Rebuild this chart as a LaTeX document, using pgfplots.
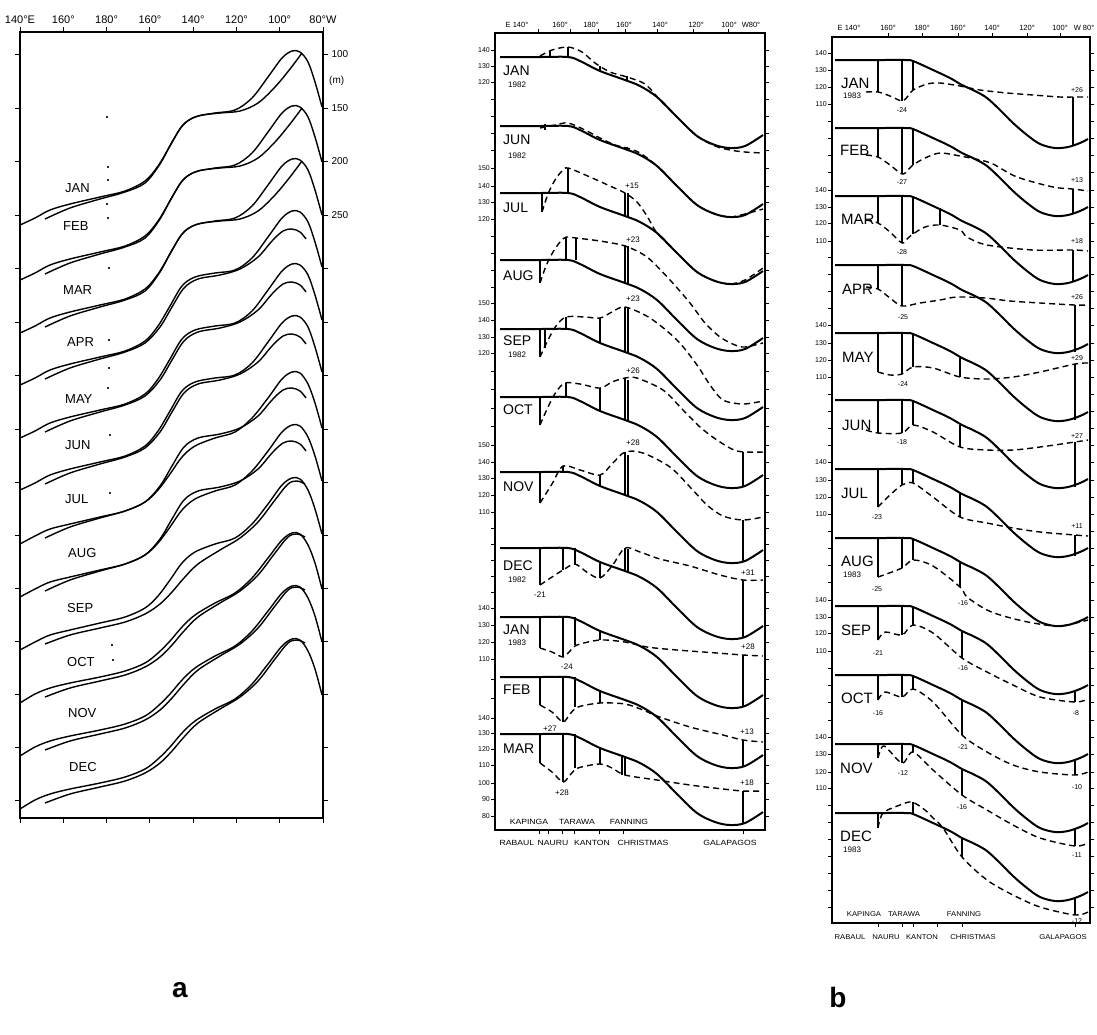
\documentclass[border=0pt]{standalone}
\usepackage{pgfplots}
\pgfplotsset{compat=1.18}
\usepackage{fontspec}
\setmainfont{Liberation Sans}
\begin{document}
\begin{tikzpicture}
\useasboundingbox (0pt,0pt) rectangle (1097pt,-1035pt);
\pgfplotsset{
  panel/.style={scale only axis, y dir=reverse, axis line style={line width=1.5pt}, tick style={line width=1pt, black}, major tick length=5pt, tick align=outside, clip=false, anchor=north west},
  pa/.style={black, line width=1.4pt, smooth, tension=0.55, mark=none},
  sol/.style={black, line width=2pt, smooth, tension=0.55, mark=none},
  dsh/.style={black, line width=1.4pt, dash pattern=on 6pt off 4pt, smooth, tension=0.5, mark=none},
  bar/.style={black, line width=1.2pt, mark=none, unbounded coords=jump},
}
\tikzset{
  mon/.style={font=\fontsize{14}{14}\selectfont, anchor=west, inner sep=0pt},
  monb/.style={font=\fontsize{15}{15}\selectfont, anchor=west, inner sep=0pt},
  mona/.style={font=\fontsize{13}{13}\selectfont, anchor=west, inner sep=0pt},
  yr/.style={font=\fontsize{8}{8}\selectfont, anchor=west, inner sep=0pt},
  num/.style={font=\fontsize{8}{8}\selectfont, inner sep=0pt},
  numb/.style={font=\fontsize{7}{7}\selectfont, inner sep=0pt},
  st/.style={font=\fontsize{7.5}{7.5}\selectfont, inner sep=0pt, xscale=1.15},
  stb/.style={font=\fontsize{7}{7}\selectfont, inner sep=0pt, xscale=1.1},
  hd/.style={font=\fontsize{7.5}{7.5}\selectfont, inner sep=0pt},
}
% ---------------- panel a ----------------
\begin{axis}[panel, at={(20pt,-32pt)}, width=303pt, height=786pt,
  xmin=20, xmax=323, ymin=32, ymax=818,
  xtick={20,63.3,106.6,149.9,193.1,236.4,279.7,323},
  xticklabels={140°E,160°,180°,160°,140°,120°,100°,80°W},
  xtick pos=both, xticklabel pos=right,
  ytick={54,108,161,215,268,322,375,429,482,535,588,641,694,747,800},
  yticklabels={100,150,200,250,{},{},{},{},{},{},{},{},{},{},{}},
  ytick pos=both, yticklabel pos=right,
  xticklabel style={font=\fontsize{11}{11}\selectfont},
  yticklabel style={font=\fontsize{10}{10}\selectfont}]
% observed
\addplot[pa] coordinates {(20,225)(35,218)(50,210)(70,204)(100,197)(125,191)(145,181)(158,166)(170,146)(182,126)(195,117)(215,113)(235,110)(252,98)(268,77)(282,58)(292,51)(300,52)(308,62)(315,82)(322,107)};
\addplot[pa] coordinates {(20,280)(35,273)(50,265)(70,259)(100,252)(125,246)(145,236)(158,221)(170,201)(182,181)(195,172)(215,168)(235,165)(252,153)(268,132)(282,113)(292,106)(300,107)(308,117)(315,137)(322,162)};
\addplot[pa] coordinates {(20,333)(35,326)(50,318)(70,312)(100,305)(125,299)(145,289)(158,274)(170,254)(182,234)(195,225)(215,221)(235,218)(252,206)(268,185)(282,166)(292,159)(300,160)(308,170)(315,190)(322,215)};
\addplot[pa] coordinates {(20,385)(35,378)(50,370)(70,364)(100,357)(125,351)(145,341)(158,326)(170,306)(182,286)(195,277)(215,273)(235,270)(252,258)(268,237)(282,218)(292,211)(300,212)(308,222)(315,242)(322,267)};
\addplot[pa] coordinates {(20,438)(35,431)(50,423)(70,417)(100,410)(125,404)(145,394)(158,379)(170,359)(182,339)(195,330)(215,326)(235,323)(252,311)(268,290)(282,271)(292,264)(300,265)(308,275)(315,295)(322,320)};
\addplot[pa] coordinates {(20,490)(35,483)(50,475)(70,469)(100,462)(125,456)(145,446)(158,431)(170,411)(182,391)(195,382)(215,378)(235,375)(252,363)(268,342)(282,323)(292,316)(300,317)(308,327)(315,347)(322,372)};
\addplot[pa] coordinates {(20,544)(35,536)(50,529)(70,524)(100,517)(125,511)(145,502)(158,490)(170,474)(182,457)(195,446)(215,438)(235,432)(252,418)(268,398)(282,379)(292,372)(300,373)(308,384)(315,403)(322,428)};
\addplot[pa] coordinates {(20,597)(35,589)(50,582)(70,577)(100,570)(125,564)(145,555)(158,543)(170,527)(182,510)(195,499)(215,491)(235,485)(252,471)(268,451)(282,432)(292,425)(300,426)(308,437)(315,456)(322,481)};
\addplot[pa] coordinates {(20,650)(35,642)(50,635)(70,630)(100,623)(125,617)(145,608)(158,596)(170,580)(182,563)(195,552)(215,544)(235,538)(252,524)(268,504)(282,485)(292,478)(300,479)(308,490)(315,509)(322,534)};
\addplot[pa] coordinates {(20,703)(35,694)(50,688)(70,683)(100,677)(125,671)(145,663)(158,653)(170,641)(182,627)(195,615)(215,603)(235,593)(252,578)(268,558)(282,540)(292,533)(300,534)(308,545)(315,563)(322,589)};
\addplot[pa] coordinates {(20,756)(35,747)(50,741)(70,736)(100,730)(125,724)(145,716)(158,706)(170,694)(182,680)(195,668)(215,656)(235,646)(252,631)(268,611)(282,593)(292,586)(300,587)(308,598)(315,616)(322,642)};
\addplot[pa] coordinates {(20,809)(35,800)(50,794)(70,789)(100,783)(125,777)(145,769)(158,759)(170,747)(182,733)(195,721)(215,709)(235,699)(252,684)(268,664)(282,646)(292,639)(300,640)(308,651)(315,669)(322,695)};
% fitted
\addplot[pa] coordinates {(45,219)(70,208)(100,199)(125,192)(145,183)(160,164)(172,142)(184,124)(198,116)(220,113)(240,111)(258,103)(275,87)(290,69)(302,53)};
\addplot[pa] coordinates {(45,274)(70,263)(100,254)(125,247)(145,238)(160,219)(172,197)(184,179)(198,171)(220,168)(240,166)(258,158)(275,142)(290,124)(302,108)};
\addplot[pa] coordinates {(45,327)(70,316)(100,307)(125,300)(145,291)(160,272)(172,250)(184,232)(198,224)(220,221)(240,219)(258,211)(275,195)(290,177)(302,161)};
\addplot[pa] coordinates {(45,379)(70,368)(100,359)(125,352)(145,343)(160,327)(172,307)(184,288)(198,279)(220,275)(240,269)(258,257)(272,241)(283,231)(292,229)(300,232)(306,239)};
\addplot[pa] coordinates {(45,432)(70,421)(100,412)(125,405)(145,396)(160,380)(172,360)(184,341)(198,332)(220,328)(240,322)(258,310)(272,294)(283,284)(292,282)(300,285)(306,292)};
\addplot[pa] coordinates {(45,484)(70,473)(100,464)(125,457)(145,448)(160,432)(172,412)(184,393)(198,384)(220,380)(240,374)(258,362)(272,346)(283,336)(292,334)(300,337)(306,344)};
\addplot[pa] coordinates {(45,538)(70,527)(100,518)(125,511)(145,502)(160,486)(172,466)(184,447)(198,438)(220,434)(240,428)(258,416)(272,400)(283,390)(292,388)(300,391)(306,398)};
\addplot[pa] coordinates {(45,591)(70,580)(100,571)(125,564)(145,555)(160,539)(172,519)(184,500)(198,491)(220,487)(240,481)(258,469)(272,453)(283,443)(292,441)(300,444)(306,451)};
\addplot[pa] coordinates {(45,644)(70,635)(100,628)(125,622)(145,614)(160,604)(172,592)(184,578)(198,564)(220,550)(240,538)(258,522)(275,500)(288,484)(297,481)(305,484)};
\addplot[pa] coordinates {(45,697)(70,688)(100,681)(125,675)(145,667)(160,657)(172,645)(184,631)(198,617)(220,603)(240,591)(258,575)(275,553)(288,537)(297,534)(305,537)};
\addplot[pa] coordinates {(45,750)(70,741)(100,734)(125,728)(145,720)(160,710)(172,698)(184,684)(198,670)(220,656)(240,644)(258,628)(275,606)(288,590)(297,587)(305,590)};
\addplot[pa] coordinates {(45,803)(70,794)(100,787)(125,781)(145,773)(160,763)(172,751)(184,737)(198,723)(220,709)(240,697)(258,681)(275,659)(288,643)(297,640)(305,643)};
\addplot[only marks, mark=*, mark size=0.8pt, black] coordinates {(107,117)(108,167)(108,180)(107,204)(108,218)(109,268)(109,340)(109,368)(108,388)(110,435)(110,493)(112,645)(113,660)};
\node[font=\fontsize{10}{10}\selectfont, anchor=west, inner sep=0pt] at (axis cs:329,81) {(m)};
\node[mona] at (axis cs:65,188) {JAN};
\node[mona] at (axis cs:63,226) {FEB};
\node[mona] at (axis cs:63,290) {MAR};
\node[mona] at (axis cs:67,342) {APR};
\node[mona] at (axis cs:65,399) {MAY};
\node[mona] at (axis cs:65,445) {JUN};
\node[mona] at (axis cs:65,499) {JUL};
\node[mona] at (axis cs:68,553) {AUG};
\node[mona] at (axis cs:67,608) {SEP};
\node[mona] at (axis cs:67,662) {OCT};
\node[mona] at (axis cs:68,713) {NOV};
\node[mona] at (axis cs:69,767) {DEC};
\end{axis}
% ---------------- panel b, left column ----------------
\begin{axis}[panel, at={(495pt,-33pt)}, width=270pt, height=797pt,
  xmin=495, xmax=765, ymin=33, ymax=830,
  xtick={539,548,562,574,599,623,743}, xticklabels={{},{},{},{},{},{},{}}, xtick pos=left,
  ytick={50,66,82,99,116,133,150,168,186,202,219,236,253,270,287,303,320,337,353,371,389,408,426,445,462,478,495,512,528,544,560,576,592,608,625,642,659,679,698,718,733,749,765,783,799,816},
  yticklabels={140,130,120,{},{},{},{},150,140,130,120,{},{},{},{},150,140,130,120,{},{},{},{},150,140,130,120,110,{},{},{},{},{},140,130,120,110,{},{},140,130,120,110,100,90,80},
  ytick pos=both, yticklabel pos=left, major tick length=4pt,
  yticklabel style={font=\fontsize{7}{7}\selectfont, inner sep=1pt}]
% climatology (solid)
\addplot[sol] coordinates {(500,57)(540,57)(568,57)(580,61)(600,71)(625,80)(640,86)(657,97)(677,117)(697,136)(715,145)(730,148)(745,146)(763,135)};
\addplot[sol] coordinates {(500,126)(540,126)(568,126)(580,130)(600,140)(625,149)(640,155)(657,166)(677,186)(697,205)(715,214)(730,217)(745,215)(763,204)};
\addplot[sol] coordinates {(500,193)(540,193)(568,193)(580,197)(600,207)(625,216)(640,222)(657,233)(677,253)(697,272)(715,281)(730,284)(745,282)(763,271)};
\addplot[sol] coordinates {(500,260)(540,260)(568,260)(580,264)(600,274)(625,283)(640,289)(657,300)(677,320)(697,339)(715,348)(730,351)(745,349)(763,338)};
\addplot[sol] coordinates {(500,329)(540,329)(568,329)(580,333)(600,343)(625,352)(640,358)(657,369)(677,389)(697,408)(715,417)(730,420)(745,418)(763,407)};
\addplot[sol] coordinates {(500,397)(540,397)(568,397)(580,401)(600,411)(625,420)(640,426)(657,437)(677,457)(697,476)(715,485)(730,488)(745,486)(763,475)};
\addplot[sol] coordinates {(500,472)(540,472)(568,472)(580,476)(600,486)(625,495)(640,501)(657,512)(677,532)(697,551)(715,560)(730,563)(745,561)(763,550)};
\addplot[sol] coordinates {(500,548)(540,548)(568,548)(580,552)(600,562)(625,571)(640,577)(657,588)(677,608)(697,627)(715,636)(730,639)(745,637)(763,626)};
\addplot[sol] coordinates {(500,617)(540,617)(568,617)(580,621)(600,631)(625,640)(640,646)(657,657)(677,677)(697,696)(715,705)(730,708)(745,706)(763,695)};
\addplot[sol] coordinates {(500,677)(540,677)(568,677)(580,681)(600,691)(625,700)(640,706)(657,717)(677,737)(697,756)(715,765)(730,768)(745,766)(763,755)};
\addplot[sol] coordinates {(500,734)(540,734)(568,734)(580,738)(600,748)(625,757)(640,763)(657,774)(677,794)(697,813)(715,822)(730,825)(745,823)(763,812)};
% monthly (dashed)
\addplot[dsh] coordinates {(540,56)(552,50)(568,47)(582,52)(595,63)(610,72)(627,77)(645,84)(660,100)(677,117)(697,136)(715,146)(730,150)(745,152)(763,153)};
\addplot[dsh] coordinates {(540,128)(555,125)(568,123)(585,130)(600,138)(615,145)(627,148)(640,153)(657,166)(677,186)(697,205)(715,214)(730,217)(745,214)(763,209)};
\addplot[dsh] coordinates {(542,212)(548,194)(555,180)(562,171)(568,168)(590,177)(610,186)(625,193)(637,202)(647,216)(657,233)(677,253)(697,272)(715,281)(730,284)(745,280)(763,268)};
\addplot[dsh] coordinates {(540,283)(546,266)(553,252)(560,242)(566,237)(576,238)(600,241)(625,246)(647,257)(670,280)(690,303)(705,323)(720,337)(735,345)(745,347)(763,343)};
\addplot[dsh] coordinates {(540,357)(548,340)(556,326)(566,317)(585,317)(600,318)(612,312)(625,307)(650,318)(677,340)(697,365)(710,385)(723,400)(743,404)(763,401)};
\addplot[dsh] coordinates {(540,425)(548,407)(556,392)(565,383)(580,384)(600,388)(612,382)(625,378)(637,378)(663,390)(683,410)(700,427)(717,440)(737,451)(763,452)};
\addplot[dsh] coordinates {(540,503)(552,484)(563,466)(580,470)(600,475)(612,464)(625,452)(643,453)(670,467)(690,487)(707,505)(723,516)(743,520)(763,517)};
\addplot[dsh] coordinates {(540,585)(552,577)(563,570)(575,564)(588,573)(600,578)(612,566)(625,548)(640,552)(660,559)(690,566)(720,575)(743,580)(763,580)};
\addplot[dsh] coordinates {(540,648)(552,652)(563,657)(570,651)(577,645)(600,640)(625,642)(647,647)(677,650)(717,653)(743,655)(763,656)};
\addplot[dsh] coordinates {(540,705)(552,712)(563,722)(570,714)(578,707)(600,703)(625,704)(643,710)(657,716)(690,727)(723,735)(743,740)(763,742)};
\addplot[dsh] coordinates {(540,763)(552,772)(563,782)(570,775)(578,768)(600,764)(612,768)(625,775)(657,780)(690,785)(723,789)(743,791)(763,791)};
% station bars
\addplot[bar] coordinates {(550,51)(550,57)(550,nan)(568,47)(568,57)(568,nan)(600,66)(600,71)(600,nan)(627,76)(627,80)(627,nan)(545,124)(545,130)(545,nan)(627,147)(627,150)(627,nan)
(542,193)(542,212)(542,nan)(568,168)(568,193)(568,nan)(625,193)(625,216)(625,nan)(628,193)(628,217)(628,nan)
(540,260)(540,283)(540,nan)(566,237)(566,260)(566,nan)(576,238)(576,260)(576,nan)(625,245)(625,283)(625,nan)(628,246)(628,284)(628,nan)
(540,329)(540,357)(540,nan)(545,329)(545,348)(545,nan)(566,317)(566,329)(566,nan)(600,318)(600,343)(600,nan)(625,307)(625,352)(625,nan)(628,307)(628,353)(628,nan)
(540,397)(540,425)(540,nan)(566,383)(566,397)(566,nan)(600,388)(600,411)(600,nan)(625,378)(625,420)(625,nan)(628,380)(628,421)(628,nan)(743,452)(743,487)(743,nan)
(540,472)(540,503)(540,nan)(563,466)(563,472)(563,nan)(600,475)(600,486)(600,nan)(625,452)(625,495)(625,nan)(628,455)(628,496)(628,nan)(743,520)(743,562)(743,nan)
(540,548)(540,585)(540,nan)(563,548)(563,570)(563,nan)(575,548)(575,564)(575,nan)(600,562)(600,578)(600,nan)(625,548)(625,571)(625,nan)(628,549)(628,572)(628,nan)(743,580)(743,638)(743,nan)
(540,617)(540,648)(540,nan)(563,617)(563,657)(563,nan)(575,617)(575,645)(575,nan)(600,631)(600,640)(600,nan)(743,655)(743,707)(743,nan)
(540,677)(540,705)(540,nan)(563,677)(563,722)(563,nan)(575,677)(575,707)(575,nan)(600,691)(600,703)(600,nan)(743,740)(743,767)(743,nan)
(540,734)(540,763)(540,nan)(563,734)(563,782)(563,nan)(575,734)(575,768)(575,nan)(600,748)(600,764)(600,nan)(622,756)(622,775)(622,nan)(625,757)(625,775)(625,nan)(743,791)(743,824)};
% header
\node[hd] at (axis cs:517,25) {E 140°};
\node[hd] at (axis cs:560,25) {160°};
\node[hd] at (axis cs:591,25) {180°};
\node[hd] at (axis cs:624,25) {160°};
\node[hd] at (axis cs:660,25) {140°};
\node[hd] at (axis cs:696,25) {120°};
\node[hd] at (axis cs:729,25) {100°};
\node[hd] at (axis cs:751,25) {W80°};
\draw[line width=1pt] (axis cs:538,33) -- (axis cs:538,29);
\draw[line width=1pt] (axis cs:570,33) -- (axis cs:570,29);
\draw[line width=1pt] (axis cs:598,33) -- (axis cs:598,29);
\draw[line width=1pt] (axis cs:625,33) -- (axis cs:625,29);
\draw[line width=1pt] (axis cs:657,33) -- (axis cs:657,29);
\draw[line width=1pt] (axis cs:693,33) -- (axis cs:693,29);
\draw[line width=1pt] (axis cs:728,33) -- (axis cs:728,29);
% month labels
\node[mon] at (axis cs:503,71) {JAN}; \node[yr] at (axis cs:508,85) {1982};
\node[mon] at (axis cs:503,140) {JUN}; \node[yr] at (axis cs:508,156) {1982};
\node[mon] at (axis cs:503,208) {JUL};
\node[mon] at (axis cs:503,276) {AUG};
\node[mon] at (axis cs:503,341) {SEP}; \node[yr] at (axis cs:508,355) {1982};
\node[mon] at (axis cs:503,410) {OCT};
\node[mon] at (axis cs:503,487) {NOV};
\node[mon] at (axis cs:503,566) {DEC}; \node[yr] at (axis cs:508,580) {1982};
\node[mon] at (axis cs:503,630) {JAN}; \node[yr] at (axis cs:508,643) {1983};
\node[mon] at (axis cs:503,690) {FEB};
\node[mon] at (axis cs:503,749) {MAR};
% anomaly numbers
\node[num] at (axis cs:632,186) {+15};
\node[num] at (axis cs:633,240) {+23};
\node[num] at (axis cs:633,299) {+23};
\node[num] at (axis cs:633,371) {+26};
\node[num] at (axis cs:633,443) {+28};
\node[num] at (axis cs:748,573) {+31};
\node[num] at (axis cs:540,595) {-21};
\node[num] at (axis cs:748,647) {+28};
\node[num] at (axis cs:567,667) {-24};
\node[num] at (axis cs:550,729) {+27};
\node[num] at (axis cs:747,732) {+13};
\node[num] at (axis cs:747,783) {+18};
\node[num] at (axis cs:562,793) {+28};
% stations
\node[st] at (axis cs:529,822) {KAPINGA};
\node[st] at (axis cs:577,822) {TARAWA};
\node[st] at (axis cs:629,822) {FANNING};
\node[st] at (axis cs:517,843) {RABAUL};
\node[st] at (axis cs:553,843) {NAURU};
\node[st] at (axis cs:592,843) {KANTON};
\node[st] at (axis cs:643,843) {CHRISTMAS};
\node[st] at (axis cs:730,843) {GALAPAGOS};
\end{axis}
% ---------------- panel b, right column ----------------
\begin{axis}[panel, at={(832pt,-37pt)}, width=258pt, height=886pt,
  xmin=832, xmax=1090, ymin=37, ymax=923,
  xtick={878,902,913,937,962,1075}, xticklabels={{},{},{},{},{},{}}, xtick pos=left,
  ytick={53,70,87,104,121,138,155,172,190,207,223,241,257,274,291,308,325,343,360,377,394,411,428,445,462,480,497,514,531,548,565,582,600,617,633,651,668,685,702,720,737,754,772,788,805,822,839,856,873,890,907},
  yticklabels={140,130,120,110,{},{},{},{},140,130,120,110,{},{},{},{},140,130,120,110,{},{},{},{},140,130,120,110,{},{},{},{},140,130,120,110,{},{},{},{},140,130,120,110,{},{},{},{},{},{},{}},
  ytick pos=both, yticklabel pos=left, major tick length=4pt,
  yticklabel style={font=\fontsize{7}{7}\selectfont, inner sep=1pt}]
% climatology (solid)
\addplot[sol] coordinates {(835,60)(880,60)(905,60)(913,61)(933,70)(950,78)(962,85)(975,91)(987,98)(1000,110)(1013,123)(1027,135)(1040,144)(1055,148)(1068,147)(1080,143)(1088,139)};
\addplot[sol] coordinates {(835,128)(880,128)(905,128)(913,129)(933,138)(950,146)(962,153)(975,159)(987,166)(1000,178)(1013,191)(1027,203)(1040,212)(1055,216)(1068,215)(1080,211)(1088,207)};
\addplot[sol] coordinates {(835,196)(880,196)(905,196)(913,197)(933,206)(950,214)(962,221)(975,227)(987,234)(1000,246)(1013,259)(1027,271)(1040,280)(1055,284)(1068,283)(1080,279)(1088,275)};
\addplot[sol] coordinates {(835,265)(880,265)(905,265)(913,266)(933,275)(950,283)(962,290)(975,296)(987,303)(1000,315)(1013,328)(1027,340)(1040,349)(1055,353)(1068,352)(1080,348)(1088,344)};
\addplot[sol] coordinates {(835,333)(880,333)(905,333)(913,334)(933,343)(950,351)(962,358)(975,364)(987,371)(1000,383)(1013,396)(1027,408)(1040,417)(1055,421)(1068,420)(1080,416)(1088,412)};
\addplot[sol] coordinates {(835,400)(880,400)(905,400)(913,401)(933,410)(950,418)(962,425)(975,431)(987,438)(1000,450)(1013,463)(1027,475)(1040,484)(1055,488)(1068,487)(1080,483)(1088,479)};
\addplot[sol] coordinates {(835,469)(880,469)(905,469)(913,470)(933,479)(950,487)(962,494)(975,500)(987,507)(1000,519)(1013,532)(1027,544)(1040,553)(1055,557)(1068,556)(1080,552)(1088,548)};
\addplot[sol] coordinates {(835,538)(880,538)(905,538)(913,539)(933,548)(950,556)(962,563)(975,569)(987,576)(1000,588)(1013,601)(1027,613)(1040,622)(1055,626)(1068,625)(1080,621)(1088,617)};
\addplot[sol] coordinates {(835,606)(880,606)(905,606)(913,607)(933,616)(950,624)(962,631)(975,637)(987,644)(1000,656)(1013,669)(1027,681)(1040,690)(1055,694)(1068,693)(1080,689)(1088,685)};
\addplot[sol] coordinates {(835,675)(880,675)(905,675)(913,676)(933,685)(950,693)(962,700)(975,706)(987,713)(1000,725)(1013,738)(1027,750)(1040,759)(1055,763)(1068,762)(1080,758)(1088,754)};
\addplot[sol] coordinates {(835,744)(880,744)(905,744)(913,745)(933,754)(950,762)(962,769)(975,775)(987,782)(1000,794)(1013,807)(1027,819)(1040,828)(1055,832)(1068,831)(1080,827)(1088,823)};
\addplot[sol] coordinates {(835,813)(880,813)(905,813)(913,814)(933,823)(950,831)(962,838)(975,844)(987,851)(1000,863)(1013,876)(1027,888)(1040,897)(1055,901)(1068,900)(1080,896)(1088,892)};
% monthly (dashed)
\addplot[dsh] coordinates {(866,92)(878,92)(890,96)(902,101)(908,96)(913,90)(927,84)(940,83)(960,86)(980,90)(1007,93)(1033,95)(1060,97)(1073,97)(1088,97)};
\addplot[dsh] coordinates {(866,155)(878,157)(890,165)(902,174)(908,170)(913,165)(925,158)(940,153)(960,156)(980,160)(993,164)(1017,177)(1053,187)(1073,189)(1088,191)};
\addplot[dsh] coordinates {(866,220)(878,223)(890,232)(902,243)(908,238)(913,234)(925,227)(940,225)(960,230)(967,237)(987,245)(1033,250)(1073,250)(1088,251)};
\addplot[dsh] coordinates {(866,287)(878,289)(890,298)(902,306)(920,303)(940,300)(957,297)(985,298)(1010,301)(1040,303)(1075,305)(1088,305)};
\addplot[dsh] coordinates {(878,372)(890,375)(902,374)(913,367)(933,368)(960,377)(987,379)(1013,377)(1040,372)(1075,364)(1088,363)};
\addplot[dsh] coordinates {(866,430)(878,433)(902,433)(913,425)(933,432)(960,447)(987,450)(1013,450)(1040,447)(1075,442)(1088,440)};
\addplot[dsh] coordinates {(878,507)(890,495)(902,485)(913,483)(933,497)(960,517)(987,523)(1013,528)(1040,532)(1075,535)(1088,536)};
\addplot[dsh] coordinates {(878,577)(902,568)(913,560)(933,566)(960,587)(967,597)(987,610)(1007,617)(1033,623)(1060,626)(1088,620)};
\addplot[dsh] coordinates {(878,640)(885,632)(902,635)(913,625)(933,633)(962,658)(987,672)(1013,685)(1040,697)(1075,702)(1088,699)};
\addplot[dsh] coordinates {(878,700)(885,692)(902,697)(913,689)(933,702)(962,735)(987,752)(1013,765)(1040,772)(1075,775)(1088,772)};
\addplot[dsh] coordinates {(878,758)(884,746)(902,763)(913,752)(933,770)(962,795)(987,810)(1013,825)(1040,838)(1075,846)(1088,843)};
\addplot[dsh] coordinates {(878,828)(883,813)(900,805)(912,802)(925,810)(933,818)(943,828)(962,857)(987,880)(1013,895)(1040,907)(1075,915)(1088,912)};
% station bars
\addplot[bar] coordinates {(878,60)(878,92)(878,nan)(902,60)(902,101)(902,nan)(913,60)(913,90)(913,nan)(1073,97)(1073,146)(1073,nan)
(878,128)(878,157)(878,nan)(902,128)(902,174)(902,nan)(913,128)(913,165)(913,nan)(1073,189)(1073,214)(1073,nan)
(878,196)(878,223)(878,nan)(902,196)(902,243)(902,nan)(913,196)(913,234)(913,nan)(940,208)(940,225)(940,nan)(1073,250)(1073,282)(1073,nan)
(878,265)(878,289)(878,nan)(902,265)(902,306)(902,nan)(1075,305)(1075,352)(1075,nan)
(878,333)(878,372)(878,nan)(902,333)(902,374)(902,nan)(913,333)(913,367)(913,nan)(960,358)(960,377)(960,nan)(1075,364)(1075,420)(1075,nan)
(878,400)(878,433)(878,nan)(902,400)(902,433)(902,nan)(913,400)(913,425)(913,nan)(960,425)(960,447)(960,nan)(1075,442)(1075,487)(1075,nan)
(878,469)(878,507)(878,nan)(902,469)(902,485)(902,nan)(913,469)(913,483)(913,nan)(960,494)(960,517)(960,nan)(1075,535)(1075,556)(1075,nan)
(878,538)(878,577)(878,nan)(902,538)(902,568)(902,nan)(913,538)(913,560)(913,nan)(960,563)(960,587)(960,nan)
(878,606)(878,640)(878,nan)(902,606)(902,635)(902,nan)(913,606)(913,625)(913,nan)(962,631)(962,658)(962,nan)(1075,692)(1075,702)(1075,nan)
(878,675)(878,700)(878,nan)(902,675)(902,697)(902,nan)(913,675)(913,689)(913,nan)(962,700)(962,735)(962,nan)(1075,761)(1075,775)(1075,nan)
(878,744)(878,758)(878,nan)(902,744)(902,763)(902,nan)(913,744)(913,752)(913,nan)(962,769)(962,795)(962,nan)(1075,830)(1075,846)(1075,nan)
(878,813)(878,828)(878,nan)(913,802)(913,813)(913,nan)(962,838)(962,857)(962,nan)(1075,899)(1075,915)};
% header
\node[hd] at (axis cs:849,28) {E 140°};
\node[hd] at (axis cs:888,28) {160°};
\node[hd] at (axis cs:922,28) {180°};
\node[hd] at (axis cs:958,28) {160°};
\node[hd] at (axis cs:992,28) {140°};
\node[hd] at (axis cs:1027,28) {120°};
\node[hd] at (axis cs:1060,28) {100°};
\node[hd] at (axis cs:1084,28) {W 80°};
\draw[line width=1pt] (axis cs:888,37) -- (axis cs:888,33);
\draw[line width=1pt] (axis cs:922,37) -- (axis cs:922,33);
\draw[line width=1pt] (axis cs:958,37) -- (axis cs:958,33);
\draw[line width=1pt] (axis cs:992,37) -- (axis cs:992,33);
\draw[line width=1pt] (axis cs:1027,37) -- (axis cs:1027,33);
\draw[line width=1pt] (axis cs:1060,37) -- (axis cs:1060,33);
% month labels
\node[monb] at (axis cs:841,83) {JAN}; \node[yr] at (axis cs:843,96) {1983};
\node[monb] at (axis cs:840,150) {FEB};
\node[monb] at (axis cs:841,219) {MAR};
\node[monb] at (axis cs:842,289) {APR};
\node[monb] at (axis cs:842,357) {MAY};
\node[monb] at (axis cs:842,425) {JUN};
\node[monb] at (axis cs:841,493) {JUL};
\node[monb] at (axis cs:841,561) {AUG}; \node[yr] at (axis cs:843,575) {1983};
\node[monb] at (axis cs:841,630) {SEP};
\node[monb] at (axis cs:841,698) {OCT};
\node[monb] at (axis cs:840,768) {NOV};
\node[monb] at (axis cs:840,836) {DEC}; \node[yr] at (axis cs:843,850) {1983};
% anomaly numbers
\node[numb] at (axis cs:902,110) {-24};
\node[numb] at (axis cs:1077,90) {+26};
\node[numb] at (axis cs:902,182) {-27};
\node[numb] at (axis cs:1077,180) {+13};
\node[numb] at (axis cs:902,252) {-28};
\node[numb] at (axis cs:1077,241) {+18};
\node[numb] at (axis cs:903,317) {-25};
\node[numb] at (axis cs:1077,297) {+26};
\node[numb] at (axis cs:903,384) {-24};
\node[numb] at (axis cs:1077,358) {+29};
\node[numb] at (axis cs:902,442) {-18};
\node[numb] at (axis cs:1077,436) {+27};
\node[numb] at (axis cs:877,517) {-23};
\node[numb] at (axis cs:1077,526) {+11};
\node[numb] at (axis cs:877,589) {-25};
\node[numb] at (axis cs:963,603) {-16};
\node[numb] at (axis cs:878,653) {-21};
\node[numb] at (axis cs:963,668) {-16};
\node[numb] at (axis cs:1076,713) {-8};
\node[numb] at (axis cs:878,713) {-16};
\node[numb] at (axis cs:963,747) {-21};
\node[numb] at (axis cs:1077,787) {-10};
\node[numb] at (axis cs:903,773) {-12};
\node[numb] at (axis cs:962,807) {-16};
\node[numb] at (axis cs:1077,855) {-11};
\node[numb] at (axis cs:1077,921) {-12};
% stations
\node[stb] at (axis cs:864,914) {KAPINGA};
\node[stb] at (axis cs:904,914) {TARAWA};
\node[stb] at (axis cs:964,914) {FANNING};
\node[stb] at (axis cs:850,937) {RABAUL};
\node[stb] at (axis cs:886,937) {NAURU};
\node[stb] at (axis cs:922,937) {KANTON};
\node[stb] at (axis cs:973,937) {CHRISTMAS};
\node[stb] at (axis cs:1063,937) {GALAPAGOS};
\end{axis}
\node[font=\bfseries\fontsize{28}{28}\selectfont] at (180pt,-990pt) {a};
\node[font=\bfseries\fontsize{28}{28}\selectfont] at (838pt,-997pt) {b};
\end{tikzpicture}
\end{document}
